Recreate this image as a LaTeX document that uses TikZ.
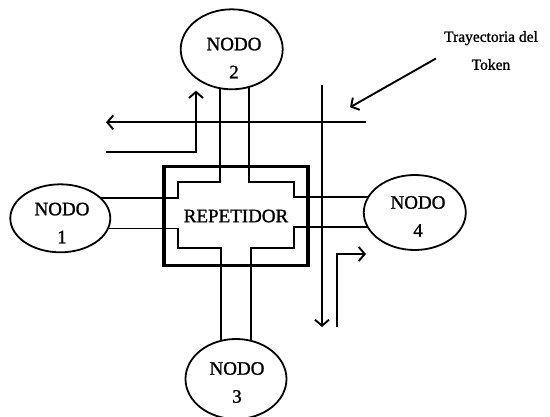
\documentclass[tikz,border=0pt]{standalone}
\usepackage{fontspec}
\setmainfont{Liberation Serif}[AutoFakeBold=1.3]
\usetikzlibrary{shapes.geometric,arrows.meta}

\tikzset{
  nodo/.style={draw,ellipse,line width=1.8pt,inner sep=0pt,outer sep=0pt},
  nodotxt/.style={align=center,inner sep=0pt,font=\bfseries\fontsize{19}{28}\selectfont},
  repbox/.style={draw,line width=3.8pt,minimum width=144pt,minimum height=99pt,inner sep=0pt,font=\bfseries\fontsize{19}{23}\selectfont},
  canal/.style={line width=1.8pt},
  tok/.style={line width=1.9pt,-{Straight Barb[length=6pt,width=14pt]}},
  lbltxt/.style={align=center,inner sep=0pt,font=\bfseries\fontsize{15.5}{28}\selectfont}
}

\begin{document}
\begin{tikzpicture}[x=1pt,y=-1pt]
  \useasboundingbox (0,0) rectangle (550,416);
  \node[nodo,minimum width=100pt,minimum height=68pt] (n1) at (60.3,218.3) {};
  \node[nodo,minimum width=102pt,minimum height=80pt] (n2) at (231.7,49.3) {};
  \node[nodo,minimum width=101pt,minimum height=80pt] (n3) at (236,379) {};
  \node[nodo,minimum width=102pt,minimum height=75pt] (n4) at (414.8,212.5) {};
  \node[nodotxt] (t1) at (62,223) {NODO\\1};
  \node[nodotxt] (t2) at (234,58) {NODO\\2};
  \node[nodotxt] (t3) at (237,382.5) {NODO\\3};
  \node[nodotxt] (t4) at (418,216.4) {NODO\\4};
  \node[repbox] (rep) at (236,216) {REPETIDOR};
  \coordinate (c1) at (178.3,182.3);
  \coordinate (c2) at (294.3,182.3);
  \coordinate (c3) at (294.3,248.3);
  \coordinate (c4) at (178.3,248.3);
  \draw[canal] (n1.27) -- (c1 |- n1.27) -- (c1) -- (n2.253 |- c1) -- (n2.253);
  \draw[canal] (n2.295) -- (n2.295 |- c2) -- (c2) -- (c2 |- n4.162) -- (n4.162);
  \draw[canal] (n4.197) -- (c3 |- n4.197) -- (c3) -- (n3.69 |- c3) -- (n3.69);
  \draw[canal] (n3.112) -- (n3.112 |- c4) -- (c4) -- (c4 |- n1.348) -- (n1.348);
  % trayectoria del token
  \coordinate (v1) at (322,85);
  \coordinate (v2) at (322,327);
  \coordinate (h1) at (365.5,122.3);
  \coordinate (h2) at (106,122.3);
  \coordinate (u1) at (106,151.7);
  \coordinate (u2) at (196,90.7);
  \coordinate (r1) at (336.7,327.3);
  \coordinate (r2) at (366,254);
  \draw[tok] (v1) -- (v2);
  \draw[tok] (h1) -- (h2);
  \draw[tok] (u1) -| (u2);
  \draw[tok] (r1) |- (r2);
  \node[lbltxt] (lbl) at (491,50.5) {Trayectoria del\\Token};
  \coordinate (flecha) at (350,107.3);
  \draw[tok] ([xshift=-8pt,yshift=-8pt]lbl.west) -- (flecha);
\end{tikzpicture}
\end{document}
